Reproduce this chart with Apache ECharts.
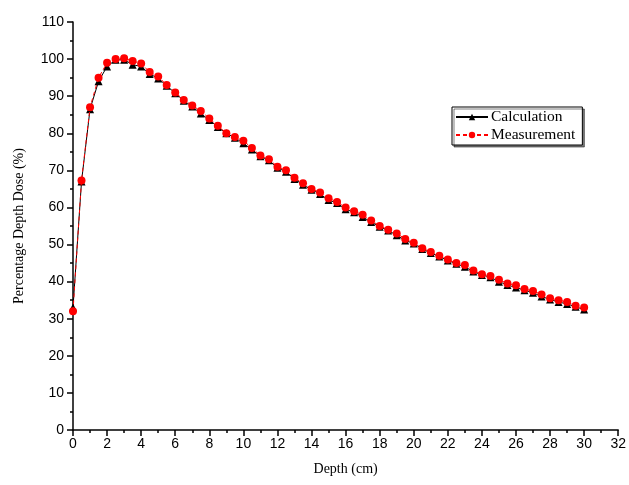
<!DOCTYPE html>
<html><head><meta charset="utf-8">
<script src="https://cdn.jsdelivr.net/npm/echarts@6/dist/echarts.min.js"></script>
<style>html,body{margin:0;padding:0;background:#fff}#c{width:629px;height:485px}</style>
</head><body><div id="c"></div>
<script>
const depths = [0,0.5,1,1.5,2,2.5,3,3.5,4,4.5,5,5.5,6,6.5,7,7.5,8,8.5,9,9.5,10,10.5,11,11.5,12,12.5,13,13.5,14,14.5,15,15.5,16,16.5,17,17.5,18,18.5,19,19.5,20,20.5,21,21.5,22,22.5,23,23.5,24,24.5,25,25.5,26,26.5,27,27.5,28,28.5,29,29.5,30];
const calculation = [33,67,86.5,94,98,99.8,99.8,98.5,98,96,94.8,92.8,90.8,88.8,87.2,85.3,83.6,81.7,80,78.8,77.3,75.6,73.8,72.7,70.7,69.6,67.7,66.1,64.8,63.6,62,61.2,59.5,58.7,57.4,56.1,54.8,53.8,52.5,51.1,50.3,48.8,47.7,46.8,45.7,44.8,44,42.7,41.8,41.2,40,39.1,38.4,37.7,37,36,35.2,34.5,34,33.2,32.5];
const measurement = [32,67.3,87,95,99,100,100.2,99.5,98.8,96.5,95.3,93,91,89,87.5,86,84,82,80,79,78,76,74,73,71,70,68,66.5,65,64,62.5,61.5,60,59,58,56.5,55,54,53,51.5,50.5,49,48,47,46,45,44.5,43,42,41.5,40.5,39.5,39,38,37.5,36.5,35.5,35,34.5,33.5,33];
const seriesNames = ['Calculation','Measurement'];
const xTitle = 'Depth (cm)';
const yTitle = 'Percentage Depth Dose (%)';

const chart = echarts.init(document.getElementById('c'));
const pair = arr => depths.map((d,i)=>[d,arr[i]]);
const tickLbl = {color:'#000', fontFamily:'Liberation Sans, Arial', fontSize:14};
const serif = 'Liberation Serif, Times New Roman';
chart.setOption({
  animation:false,
  grid:{left:73,right:5,top:22,bottom:55},
  legend:{
    orient:'vertical', left:452, top:107,
    data:seriesNames,
    borderColor:'#000', borderWidth:1, padding:[2,7,2,3],
    backgroundColor:'#fff',
    shadowColor:'rgba(0,0,0,0.5)', shadowOffsetX:2, shadowOffsetY:2, shadowBlur:0,
    itemWidth:32, itemHeight:8, itemGap:2,
    textStyle:{color:'#000', fontFamily:serif, fontSize:15.5, padding:[0,0,0,-2]}
  },
  xAxis:{
    type:'value', min:0, max:32, interval:2,
    name:xTitle, nameLocation:'middle', nameGap:32,
    nameTextStyle:{color:'#000', fontFamily:serif, fontSize:14},
    axisLine:{show:true, onZero:false, lineStyle:{color:'#000', width:1.5}},
    axisTick:{show:true, inside:false, length:6, lineStyle:{color:'#000', width:1.5}},
    minorTick:{show:true, splitNumber:2, length:3, lineStyle:{color:'#000', width:1.5}},
    splitLine:{show:false},
    axisLabel:Object.assign({margin:7}, tickLbl)
  },
  yAxis:{
    type:'value', min:0, max:110, interval:10,
    name:yTitle, nameLocation:'middle', nameGap:47,
    nameTextStyle:{color:'#000', fontFamily:serif, fontSize:14},
    axisLine:{show:true, onZero:false, lineStyle:{color:'#000', width:1.5}},
    axisTick:{show:true, inside:false, length:6, lineStyle:{color:'#000', width:1.5}},
    minorTick:{show:true, splitNumber:2, length:3, lineStyle:{color:'#000', width:1.5}},
    splitLine:{show:false},
    axisLabel:Object.assign({margin:9}, tickLbl)
  },
  series:[
    {name:seriesNames[0], type:'line', data:pair(calculation),
     symbol:'triangle', symbolSize:8, showAllSymbol:true,
     itemStyle:{color:'#000'}, lineStyle:{color:'#000', width:1}, z:2},
    {name:seriesNames[1], type:'line', data:pair(measurement),
     symbol:'circle', symbolSize:8, showAllSymbol:true,
     itemStyle:{color:'#ff0000'}, lineStyle:{color:'#ff0000', width:1, type:[4,3]}, z:3}
  ]
});
</script></body></html>
